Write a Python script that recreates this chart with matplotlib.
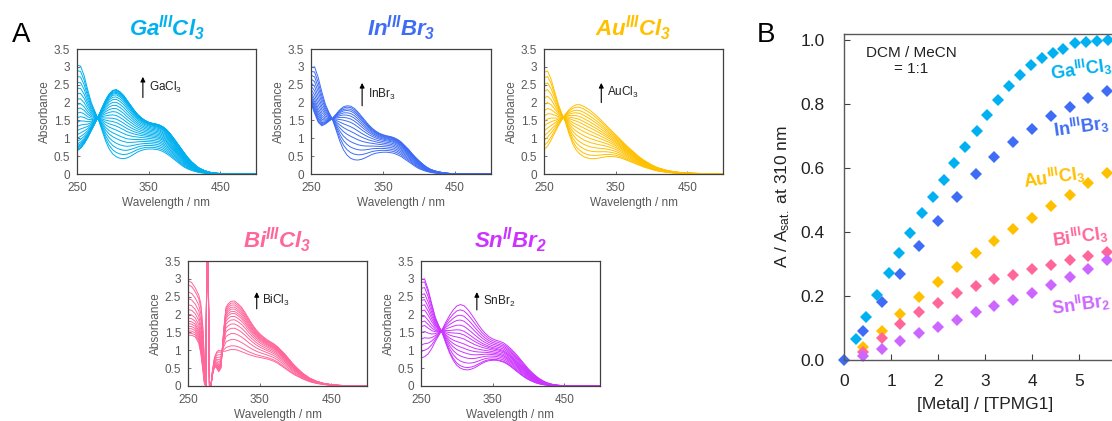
import numpy as np
import matplotlib
matplotlib.use('Agg')
import matplotlib.pyplot as plt

plt.rcParams['font.family'] = ['Liberation Sans', 'DejaVu Sans']
plt.rcParams['mathtext.fontset'] = 'custom'
plt.rcParams['mathtext.rm'] = 'Liberation Sans'
plt.rcParams['mathtext.it'] = 'Liberation Sans:italic'
plt.rcParams['mathtext.bf'] = 'Liberation Sans:bold'
plt.rcParams['mathtext.bfit'] = 'Liberation Sans:italic:bold'

#%% data: titration curves (panel B)
ga_x = [0.25, 0.47, 0.70, 0.95, 1.18, 1.41, 1.65, 1.89, 2.12, 2.35, 2.58, 2.82,
        3.04, 3.28, 3.51, 3.74, 3.97, 4.21, 4.44, 4.67, 4.91, 5.14, 5.38, 5.61]
ga_y = [0.065, 0.133, 0.202, 0.271, 0.333, 0.398, 0.458, 0.51, 0.562, 0.615, 0.667, 0.717,
        0.765, 0.812, 0.856, 0.892, 0.923, 0.944, 0.96, 0.973, 0.99, 0.994, 0.998, 1.0]
in_x = [0, 0.4, 0.8, 1.2, 1.6, 2.0, 2.4, 2.8, 3.2, 3.6, 4.0, 4.4, 4.8, 5.2, 5.6]
in_y = [0, 0.092, 0.181, 0.269, 0.356, 0.435, 0.51, 0.58, 0.635, 0.682, 0.723, 0.762,
        0.79, 0.819, 0.842]
eq_x = [0.4, 0.8, 1.2, 1.6, 2.0, 2.4, 2.8, 3.2, 3.6, 4.0, 4.4, 4.8, 5.2, 5.6]
au_y = [0.042, 0.092, 0.144, 0.196, 0.245, 0.292, 0.333, 0.373, 0.408, 0.444, 0.481,
        0.515, 0.554, 0.585]
bi_y = [0.026, 0.07, 0.112, 0.149, 0.179, 0.208, 0.232, 0.252, 0.267, 0.283, 0.297,
        0.312, 0.326, 0.339]
sn_y = [0.012, 0.035, 0.06, 0.083, 0.104, 0.125, 0.149, 0.169, 0.187, 0.211, 0.236,
        0.26, 0.286, 0.312]

#%% data: first (free ligand) and last spectra of each titration
wl = [250, 255, 260, 265, 270, 275, 280, 285, 290, 295, 300, 305, 310, 315, 320, 325,
      330, 335, 340, 345, 350, 355, 360, 365, 370, 375, 380, 385, 390, 395, 400, 405,
      410, 415, 420, 425, 430, 435, 440, 445, 450, 460, 470, 480, 490, 500]

ga_first = [3.05, 3.02, 2.75, 2.35, 2.0, 1.75, 1.52, 1.22, 0.92, 0.7, 0.56, 0.48, 0.44,
            0.43, 0.45, 0.5, 0.56, 0.62, 0.66, 0.69, 0.7, 0.7, 0.69, 0.67, 0.63, 0.57,
            0.5, 0.42, 0.34, 0.26, 0.19, 0.14, 0.1, 0.07, 0.045, 0.03, 0.02, 0.012,
            0.008, 0.005, 0.003, 0.001, 0, 0, 0, 0]
ga_last = [0.65, 0.72, 0.85, 1.02, 1.22, 1.42, 1.62, 1.85, 2.07, 2.24, 2.34, 2.36, 2.3,
           2.2, 2.06, 1.92, 1.78, 1.66, 1.57, 1.5, 1.45, 1.42, 1.4, 1.37, 1.32, 1.24,
           1.13, 1.0, 0.86, 0.72, 0.58, 0.45, 0.34, 0.25, 0.17, 0.12, 0.08, 0.05, 0.03,
           0.02, 0.012, 0.005, 0.002, 0, 0, 0]

in_first = [2.98, 3.0, 2.7, 2.3, 1.95, 1.72, 1.52, 1.22, 0.92, 0.68, 0.53, 0.44, 0.4,
            0.39, 0.41, 0.45, 0.5, 0.55, 0.58, 0.6, 0.61, 0.61, 0.6, 0.58, 0.54, 0.49,
            0.42, 0.35, 0.28, 0.21, 0.15, 0.11, 0.075, 0.05, 0.033, 0.02, 0.013, 0.008,
            0.005, 0.003, 0.002, 0.001, 0, 0, 0, 0]
in_last = [1.98, 1.7, 1.45, 1.35, 1.4, 1.48, 1.56, 1.68, 1.8, 1.88, 1.91, 1.9, 1.84,
           1.74, 1.62, 1.5, 1.38, 1.28, 1.2, 1.14, 1.1, 1.07, 1.05, 1.02, 0.97, 0.9,
           0.8, 0.7, 0.58, 0.47, 0.37, 0.28, 0.2, 0.14, 0.1, 0.07, 0.05, 0.03, 0.02,
           0.012, 0.008, 0.003, 0.001, 0, 0, 0]

au_first = [2.85, 2.88, 2.65, 2.3, 1.95, 1.68, 1.45, 1.12, 0.85, 0.67, 0.56, 0.49, 0.45,
            0.43, 0.43, 0.44, 0.46, 0.48, 0.49, 0.49, 0.48, 0.46, 0.43, 0.39, 0.35, 0.31,
            0.27, 0.23, 0.19, 0.16, 0.13, 0.1, 0.08, 0.065, 0.05, 0.04, 0.03, 0.025,
            0.02, 0.015, 0.012, 0.008, 0.005, 0.003, 0.002, 0.001]
au_last = [0.68, 0.78, 0.95, 1.15, 1.35, 1.52, 1.68, 1.8, 1.89, 1.94, 1.94, 1.9, 1.84,
           1.77, 1.69, 1.6, 1.5, 1.4, 1.3, 1.2, 1.1, 1.0, 0.9, 0.8, 0.71, 0.62, 0.53,
           0.45, 0.38, 0.32, 0.26, 0.21, 0.17, 0.14, 0.11, 0.09, 0.07, 0.055, 0.045,
           0.035, 0.03, 0.02, 0.013, 0.008, 0.004, 0.002]

sn_first = [2.98, 3.0, 2.7, 2.3, 1.92, 1.68, 1.47, 1.18, 0.92, 0.72, 0.58, 0.5, 0.46,
            0.45, 0.47, 0.51, 0.57, 0.63, 0.68, 0.71, 0.72, 0.72, 0.7, 0.67, 0.62, 0.55,
            0.47, 0.39, 0.31, 0.24, 0.18, 0.13, 0.09, 0.06, 0.04, 0.025, 0.015, 0.01,
            0.006, 0.004, 0.002, 0.001, 0, 0, 0, 0]
sn_last = [0.78, 0.82, 0.9, 1.05, 1.25, 1.42, 1.6, 1.8, 1.98, 2.13, 2.24, 2.28, 2.25,
           2.15, 2.02, 1.87, 1.72, 1.58, 1.47, 1.38, 1.32, 1.28, 1.25, 1.21, 1.14, 1.05,
           0.95, 0.84, 0.72, 0.6, 0.48, 0.38, 0.29, 0.21, 0.15, 0.1, 0.065, 0.04, 0.025,
           0.015, 0.01, 0.004, 0.001, 0, 0, 0]

# BiCl3 needs a finer grid around the saturated region
wl_bi = [250, 255, 260, 265, 268, 271, 273, 275, 276, 277, 278, 279, 280, 282, 284, 287,
         290, 293, 296, 300, 303, 306, 310, 315, 320, 325, 330, 335, 340, 345, 350, 355,
         360, 365, 370, 375, 380, 385, 390, 395, 400, 410, 420, 430, 440, 450, 460, 470,
         480, 490, 500]
bi_first = [2.95, 2.9, 2.75, 2.55, 2.3, 1.6, 0.6, 0.0, 2.6, 3.6, 3.6, 2.0, 0.0, 0.0, 0.4,
            0.8, 0.95, 1.0, 0.98, 0.97, 0.98, 1.0, 1.02, 1.02, 1.0, 0.96, 0.92, 0.88,
            0.85, 0.82, 0.8, 0.78, 0.76, 0.73, 0.69, 0.64, 0.57, 0.5, 0.43, 0.36, 0.3,
            0.2, 0.12, 0.07, 0.04, 0.02, 0.01, 0.005, 0.002, 0.001, 0]
bi_last = [1.42, 1.42, 1.38, 1.2, 0.9, 0.4, 0.05, 0.0, 3.0, 3.6, 3.6, 1.5, 0.0, 0.0, 0.3,
           0.55, 0.5, 0.4, 0.5, 1.6, 2.2, 2.3, 2.37, 2.38, 2.3, 2.2, 2.05, 1.88, 1.72,
           1.58, 1.47, 1.38, 1.3, 1.24, 1.18, 1.1, 1.0, 0.9, 0.78, 0.66, 0.55, 0.36,
           0.22, 0.13, 0.07, 0.04, 0.02, 0.01, 0.005, 0.002, 0]

ga_c, in_c, au_c, bi_c, sn_c = '#00b0f0', '#3f6cf5', '#ffc000', '#ff6699', '#cc33ff'
sn_c_b = '#cc66ff'
gray = '#595959'

#%% figure
fig = plt.figure(figsize=(11.12, 4.21), dpi=100)
W, H = 1112, 421


def px_axes(left, top, right, bottom):
    return fig.add_axes([left / W, 1 - bottom / H, (right - left) / W, (bottom - top) / H])


def spectra(ax, x, first, last, frac, color, title, arrow_wl, arr_y0, arr_y1, label):
    first = np.array(first)
    last = np.array(last)
    steps = np.concatenate([[0.0], np.array(frac) / frac[-1]])
    for f in steps:
        ax.plot(x, first + f * (last - first), color=color, lw=0.7, clip_on=True)
    ax.set_xlim(250, 500)
    ax.set_ylim(0, 3.5)
    ax.set_xticks([250, 350, 450])
    ax.set_yticks(np.arange(0, 3.51, 0.5))
    ax.set_yticklabels(['0', '0.5', '1', '1.5', '2', '2.5', '3', '3.5'])
    ax.tick_params(direction='in', length=2.5, width=0.6, labelsize=8.5, colors=gray,
                   labelcolor=gray)
    ax.tick_params(axis='x', pad=6)
    ax.tick_params(axis='y', pad=5)
    for s in ax.spines.values():
        s.set_color('#404040')
        s.set_linewidth(0.9)
    ax.set_xlabel('Wavelength / nm', fontsize=8.5, color=gray, labelpad=2)
    ax.set_ylabel('Absorbance', fontsize=8.5, color=gray, labelpad=2)
    ax.text(0.5, 1.05, title, transform=ax.transAxes, ha='center', va='bottom',
            fontsize=16, color=color)
    ax.annotate('', xy=(arrow_wl, arr_y1), xytext=(arrow_wl, arr_y0),
                arrowprops=dict(arrowstyle='-|>', color='k', lw=0.8, mutation_scale=7,
                                shrinkA=0, shrinkB=0))
    ax.text(arrow_wl + 8, (arr_y0 + arr_y1) / 2, label, fontsize=8.5, color='#222222',
            ha='left', va='center')


ax_ga = px_axes(77, 49, 256, 174)
spectra(ax_ga, wl, ga_first, ga_last, ga_y, ga_c,
        r'$\mathbfit{Ga}^{\mathbfit{III}}\mathbfit{Cl}_{\mathbfit{3}}$', 342, 2.14, 2.72,
        r'GaCl$_3$')
ax_in = px_axes(311, 49, 491, 174)
spectra(ax_in, wl, in_first, in_last, in_y[1:], in_c,
        r'$\mathbfit{In}^{\mathbfit{III}}\mathbfit{Br}_{\mathbfit{3}}$', 321, 1.91, 2.55,
        r'InBr$_3$')
ax_au = px_axes(544, 49, 723, 174)
spectra(ax_au, wl, au_first, au_last, au_y, au_c,
        r'$\mathbfit{Au}^{\mathbfit{III}}\mathbfit{Cl}_{\mathbfit{3}}$', 330, 2.0, 2.55,
        r'AuCl$_3$')
ax_bi = px_axes(188, 261, 367, 386)
spectra(ax_bi, wl_bi, bi_first, bi_last, bi_y, bi_c,
        r'$\mathbfit{Bi}^{\mathbfit{III}}\mathbfit{Cl}_{\mathbfit{3}}$', 346, 2.16, 2.63,
        r'BiCl$_3$')
ax_sn = px_axes(421, 261, 600, 386)
spectra(ax_sn, wl, sn_first, sn_last, sn_y, sn_c,
        r'$\mathbfit{Sn}^{\mathbfit{II}}\mathbfit{Br}_{\mathbfit{2}}$', 328, 2.13, 2.63,
        r'SnBr$_2$')

#%% panel B
axb = fig.add_axes([844 / W, (H - 360) / H, 282 / W, 326.3 / H])
mk = dict(ls='none', marker='D', ms=6, mew=0, clip_on=False)
axb.plot(ga_x, ga_y, color=ga_c, **mk)
axb.plot(in_x, in_y, color=in_c, **mk)
axb.plot(eq_x, au_y, color=au_c, **mk)
axb.plot(eq_x, bi_y, color=bi_c, **mk)
axb.plot(eq_x, sn_y, color=sn_c_b, **mk)
axb.set_xlim(0, 6)
axb.set_ylim(0, 1.02)
axb.set_xticks([0, 1, 2, 3, 4, 5])
axb.set_yticks([0, 0.2, 0.4, 0.6, 0.8, 1.0])
axb.set_yticklabels(['0.0', '0.2', '0.4', '0.6', '0.8', '1.0'])
axb.tick_params(direction='in', length=4, width=0.8, labelsize=12.5, colors='#404040',
                labelcolor='#222222')
axb.tick_params(axis='x', pad=10)
axb.tick_params(axis='y', pad=14)
for s in axb.spines.values():
    s.set_color('#595959')
    s.set_linewidth(1.0)
axb.set_xlabel('[Metal] / [TPMG1]', fontsize=12.5, color='#222222', labelpad=6)
axb.set_ylabel(r'A / A$_{\mathregular{sat.}}$ at 310 nm', fontsize=12.5, color='#222222',
               labelpad=6)
axb.text(1.43, 0.98, 'DCM / MeCN\n= 1:1', ha='center', va='top', fontsize=11,
         color='#222222', linespacing=1.1)

lab = dict(fontsize=13, rotation=8, ha='center', va='center')
axb.text(5.04, 0.91, r'$\mathbf{Ga}^{\mathbf{III}}\mathbf{Cl}_{\mathbf{3}}$', color=ga_c, **lab)
axb.text(5.04, 0.73, r'$\mathbf{In}^{\mathbf{III}}\mathbf{Br}_{\mathbf{3}}$', color=in_c, **lab)
axb.text(4.47, 0.57, r'$\mathbf{Au}^{\mathbf{III}}\mathbf{Cl}_{\mathbf{3}}$', color=au_c, **lab)
axb.text(5.02, 0.385, r'$\mathbf{Bi}^{\mathbf{III}}\mathbf{Cl}_{\mathbf{3}}$', color=bi_c, **lab)
axb.text(5.04, 0.175, r'$\mathbf{Sn}^{\mathbf{II}}\mathbf{Br}_{\mathbf{2}}$', color=sn_c_b, **lab)

fig.text(12 / W, 1 - 22 / H, 'A', fontsize=20, ha='left', va='top')
fig.text(757 / W, 1 - 22 / H, 'B', fontsize=20, ha='left', va='top')

fig.savefig('out.png', dpi=100)
